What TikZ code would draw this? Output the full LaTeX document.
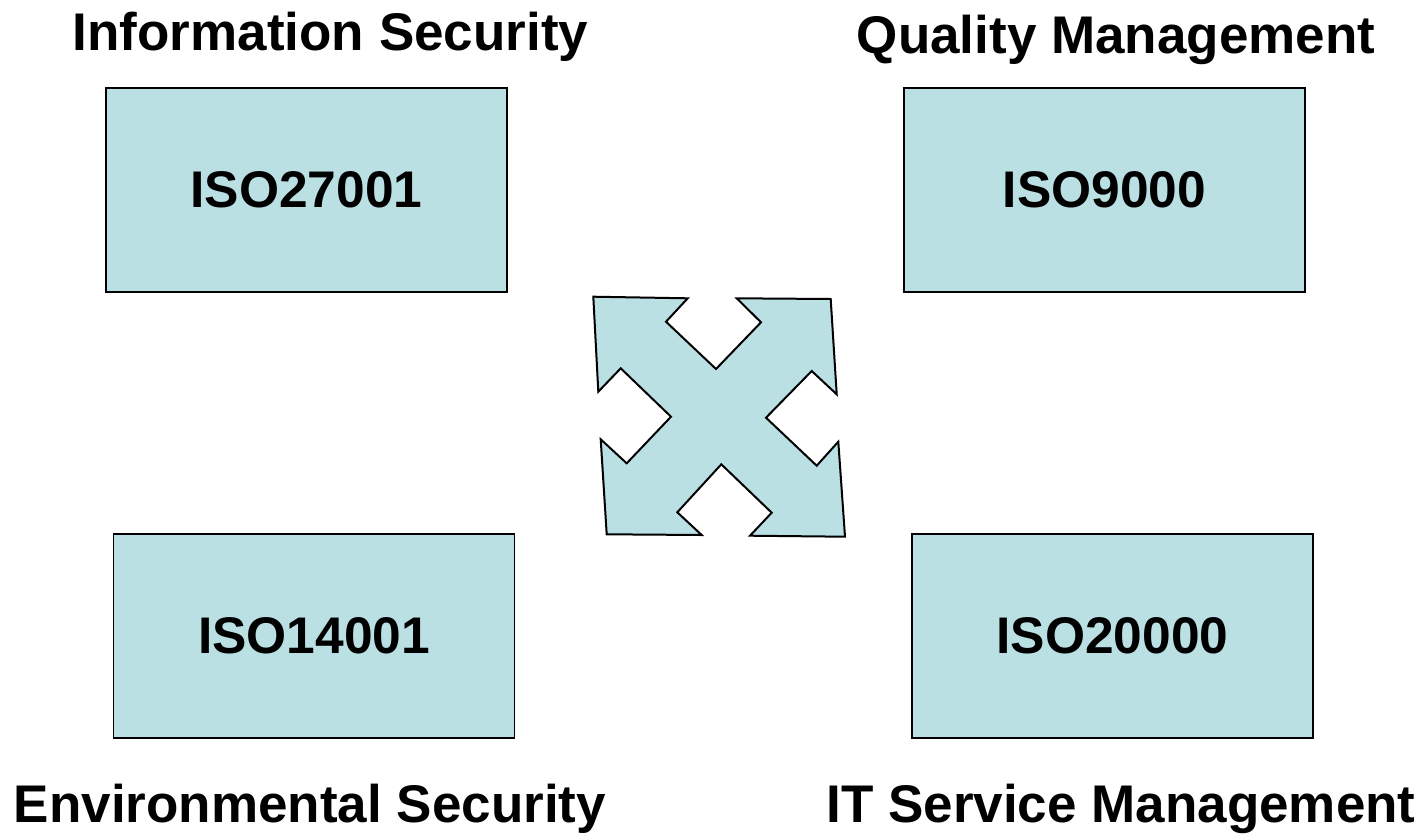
\documentclass[tikz,border=0pt]{standalone}
\usepackage{fontspec}
\setmainfont{Liberation Sans}
\definecolor{isofill}{HTML}{BBE0E3}
\begin{document}
\begin{tikzpicture}[x=1pt,y=-1pt,
  stdbox/.style={draw=black, line width=1.4pt, fill=isofill, rectangle,
    minimum width=401pt, minimum height=204pt, inner sep=0pt,
    font=\fontsize{51.5}{60}\selectfont\bfseries},
  area/.style={anchor=base, inner sep=0pt,
    font=\fontsize{53}{60}\selectfont\bfseries},
  crossarrow/.style={draw=black, line width=2pt, fill=isofill, line join=miter}]
\useasboundingbox (0,0) rectangle (1426,833);

% the four standards
\node[stdbox] (iso27001) at (306.5,190) {ISO27001};
\node[stdbox] (iso9000)  at (1104.5,190) {ISO9000};
\node[stdbox] (iso14001) at (314,636) {ISO14001};
\node[stdbox] (iso20000) at (1112.5,636) {ISO20000};

% area headings
\node[area] (infosec) at (330.5,50) {Information Security};
\node[area] (quality) at (1116,53) {Quality Management};
\node[area] (envsec)  at (310,822) {Environmental Security};
\node[area] (itsm)    at (1121,822) {IT Service Management};

% four-way arrow in the middle
\draw[crossarrow]
  (593.3,296.7) -- (687.7,298.3) -- (666,321.7) -- (716,369)
  -- (761,322.3) -- (736.7,298.3) -- (830.7,299) -- (836.7,394.3)
  -- (811.7,371) -- (766,417.7) -- (816.7,465.7) -- (838.3,441.7)
  -- (845,536.7) -- (750,535.7) -- (771.7,512.7) -- (721.3,464.3)
  -- (677.3,512.3) -- (701.7,535) -- (606.7,534.3) -- (600.7,439.3)
  -- (626.7,463.3) -- (671,416.7) -- (620.7,368.3) -- (598.3,391.7)
  -- cycle;
\end{tikzpicture}
\end{document}
